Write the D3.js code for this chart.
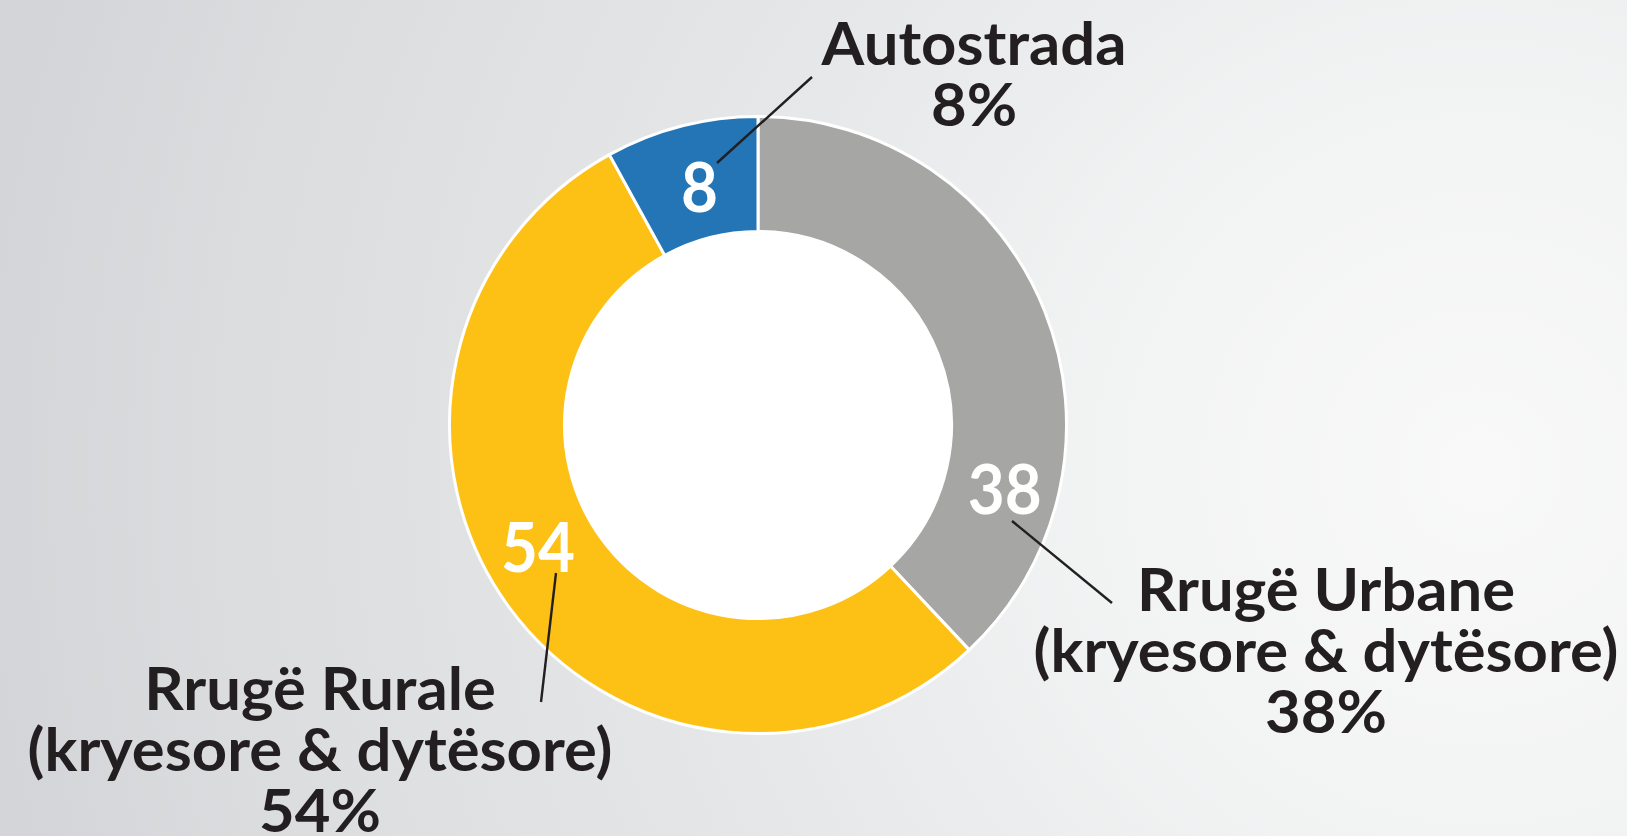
<!DOCTYPE html>
<html>
<head>
<meta charset="utf-8">
<script src="https://cdn.jsdelivr.net/npm/d3@7"></script>
<style>
  html, body { margin: 0; padding: 0; overflow: hidden; }
  svg { display: block; }
</style>
</head>
<body>
<script>
// ---- data ----
const categories = ["Rrugë Urbane (kryesore & dytësore)", "Rrugë Rurale (kryesore & dytësore)", "Autostrada"];
const values = [38, 54, 8];
const nameLines = [["Rrugë Urbane", "(kryesore & dytësore)"], ["Rrugë Rurale", "(kryesore & dytësore)"], ["Autostrada"]];
const colors = ["#a6a6a5", "#fdc116", "#2475b6"];

// ---- layout ----
const W = 1627, H = 836;
const cx = 758, cy = 425;
const rOuter = 308.5, rInner = 193.5;
const FONT = "Lato, 'Open Sans', 'DejaVu Sans', sans-serif";
const TEXT = "#231f20";
// value label placement inside slice: fraction along the slice and radius
const valueLabelT = [0.765, 0.535, 0.52];
const valueLabelR = [255, 252, 245];
// leader lines & outer labels, offsets from the donut centre
const leaderFrom = [[254, 96], [-202, 148], [-41, -262]];
const leaderTo = [[354, 178], [-217, 277], [54, -348]];
const labelAnchor = [[568, 186], [-438, 285], [216, -360]];
const lineStep = 61;

const svg = d3.select("body").append("svg").attr("width", W).attr("height", H);
const defs = svg.append("defs");
const bg = defs.append("radialGradient").attr("id", "bg")
  .attr("gradientUnits", "userSpaceOnUse")
  .attr("cx", 1480).attr("cy", 470).attr("r", 1500);
[[0, "#f9f9f9"], [0.25, "#f2f3f3"], [0.55, "#e5e6e8"], [0.85, "#dadcde"], [1, "#d3d5d8"]]
  .forEach(([o, c]) => bg.append("stop").attr("offset", o).attr("stop-color", c));
svg.append("rect").attr("width", W).attr("height", H).attr("fill", "url(#bg)");

const g = svg.append("g").attr("transform", `translate(${cx},${cy})`);

const pie = d3.pie().sort(null).value(d => d);
const arcs = pie(values);
const arc = d3.arc().innerRadius(rInner).outerRadius(rOuter);

g.append("circle").attr("r", rInner + 1).attr("fill", "#ffffff");
g.selectAll("path.slice").data(arcs).join("path")
  .attr("class", "slice")
  .attr("d", arc)
  .attr("fill", (d, i) => colors[i])
  .attr("stroke", "#ffffff")
  .attr("stroke-width", 3)
  .attr("stroke-linejoin", "miter");

// measure helper for horizontal condensation of the font
function measure(txt, size) {
  const t = svg.append("text").attr("font-family", FONT).attr("font-weight", 700)
    .attr("font-size", size).text(txt);
  const w = t.node().getComputedTextLength();
  t.remove();
  return w;
}
const labelSize = 60, valueSize = 68;
const sxLabel = 585 / measure("(kryesore & dytësore)", labelSize);
const sxValue = 74 / measure("38", valueSize);

// leader lines
g.selectAll("line.leader").data(arcs).join("line")
  .attr("class", "leader")
  .attr("x1", (d, i) => leaderFrom[i][0]).attr("y1", (d, i) => leaderFrom[i][1])
  .attr("x2", (d, i) => leaderTo[i][0]).attr("y2", (d, i) => leaderTo[i][1])
  .attr("stroke", TEXT).attr("stroke-width", 2.4);

// value labels inside slices
arcs.forEach((d, i) => {
  const a = d.startAngle + (d.endAngle - d.startAngle) * valueLabelT[i];
  const r = valueLabelR[i];
  const x = r * Math.sin(a), y = -r * Math.cos(a);
  g.append("text")
    .attr("transform", `translate(${x},${y}) scale(${sxValue},1)`)
    .attr("text-anchor", "middle")
    .attr("dy", "0.36em")
    .attr("font-family", FONT).attr("font-weight", 700).attr("font-size", valueSize)
    .attr("fill", "#ffffff")
    .text(values[i]);
});

// outer labels
arcs.forEach((d, i) => {
  const lines = nameLines[i].concat([values[i] + "%"]);
  const lg = g.append("g")
    .attr("transform", `translate(${labelAnchor[i][0]},${labelAnchor[i][1]}) scale(${sxLabel},1)`);
  lg.selectAll("text").data(lines).join("text")
    .attr("x", 0).attr("y", (t, k) => k * lineStep)
    .attr("text-anchor", "middle")
    .attr("font-family", FONT).attr("font-weight", 700).attr("font-size", labelSize)
    .attr("fill", TEXT)
    .text(t => t);
});
</script>
</body>
</html>
